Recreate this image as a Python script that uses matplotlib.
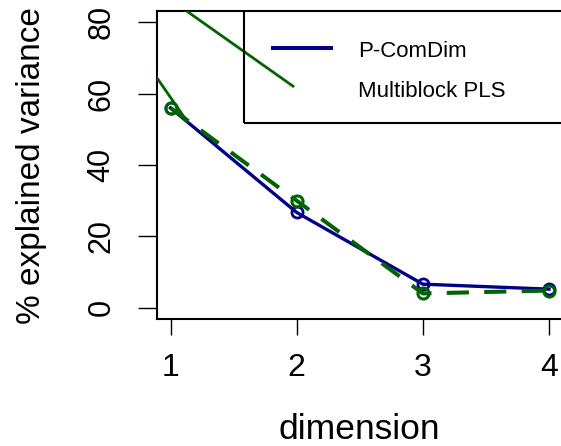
import matplotlib
matplotlib.use("Agg")
import matplotlib.pyplot as plt
from matplotlib.patches import Rectangle
from matplotlib.lines import Line2D

plt.rcParams['font.family'] = ['Liberation Sans', 'DejaVu Sans']

# explained variance per dimension
dimensions = [1, 2, 3, 4]
pcomdim = [56.0, 26.7, 6.6, 5.2]
mbpls = [56.0, 30.0, 4.0, 4.8]

# extra Multiblock PLS guide segments (x, y)
guide_a_x = [0.85, 1.13]
guide_a_y = [66.6, 52.3]
guide_b_x = [1.05, 1.971]
guide_b_y = [85.1, 62.1]

series_labels = ["P-ComDim", "Multiblock PLS"]
x_ticks = [1, 2, 3, 4]
y_ticks = [0, 20, 40, 60, 80]

BLUE = "#00008B"
GREEN = "#006400"

fig = plt.figure(figsize=(5.61, 4.46), dpi=100)
ax = fig.add_axes([157 / 561, 1 - 319.3 / 446, 418 / 561, 308.6 / 446])

ax.plot(dimensions, pcomdim, color=BLUE, lw=2.4, marker='o', ms=8,
        mfc='none', mec=BLUE, mew=2, zorder=3)
ax.plot(dimensions, mbpls, color=GREEN, lw=2.9, dashes=(5.5, 3.8),
        marker='o', ms=8, mfc='none', mec=GREEN, mew=2.2, zorder=4)
ax.plot(guide_a_x, guide_a_y, color=GREEN, lw=2.0, zorder=4)
ax.plot(guide_b_x, guide_b_y, color=GREEN, lw=2.0, zorder=4)

ax.set_xlim(0.893, 4.206)
ax.set_ylim(-3.25, 83.25)
ax.set_xticks(x_ticks)
ax.set_xticklabels([str(t) for t in x_ticks])
ax.set_yticks(y_ticks)
ax.set_yticklabels([str(t) for t in y_ticks], rotation=90, va='center')

for s in ax.spines.values():
    s.set_linewidth(1.5)
    s.set_color('black')

ax.tick_params(axis='x', length=11.5, width=1.0, pad=13, labelsize=23)
ax.tick_params(axis='y', length=13.8, width=1.0, pad=15.5, labelsize=22)

# legend box
ax.add_patch(Rectangle((0.208, 0.637), 0.9, 0.5, transform=ax.transAxes,
                       fill=False, ec='black', lw=1.5, zorder=5, clip_on=True))
ax.add_line(Line2D([0.278, 0.4156], [0.878, 0.878], transform=ax.transAxes,
                   color=BLUE, lw=2.9, zorder=5))
ax.text(0.4806, 0.8488, series_labels[0], transform=ax.transAxes,
        fontsize=16, va='baseline', ha='left')
ax.text(0.4806, 0.7194, series_labels[1], transform=ax.transAxes,
        fontsize=16, va='baseline', ha='left')

fig.text(31.4 / 561, 1 - 166 / 446, "% explained variance", rotation=90,
         ha='center', va='center', fontsize=24)
fig.text(359.5 / 561, 1 - 439.3 / 446, "dimension", ha='center',
         va='baseline', fontsize=25.5)

fig.savefig("out.png", dpi=100)
